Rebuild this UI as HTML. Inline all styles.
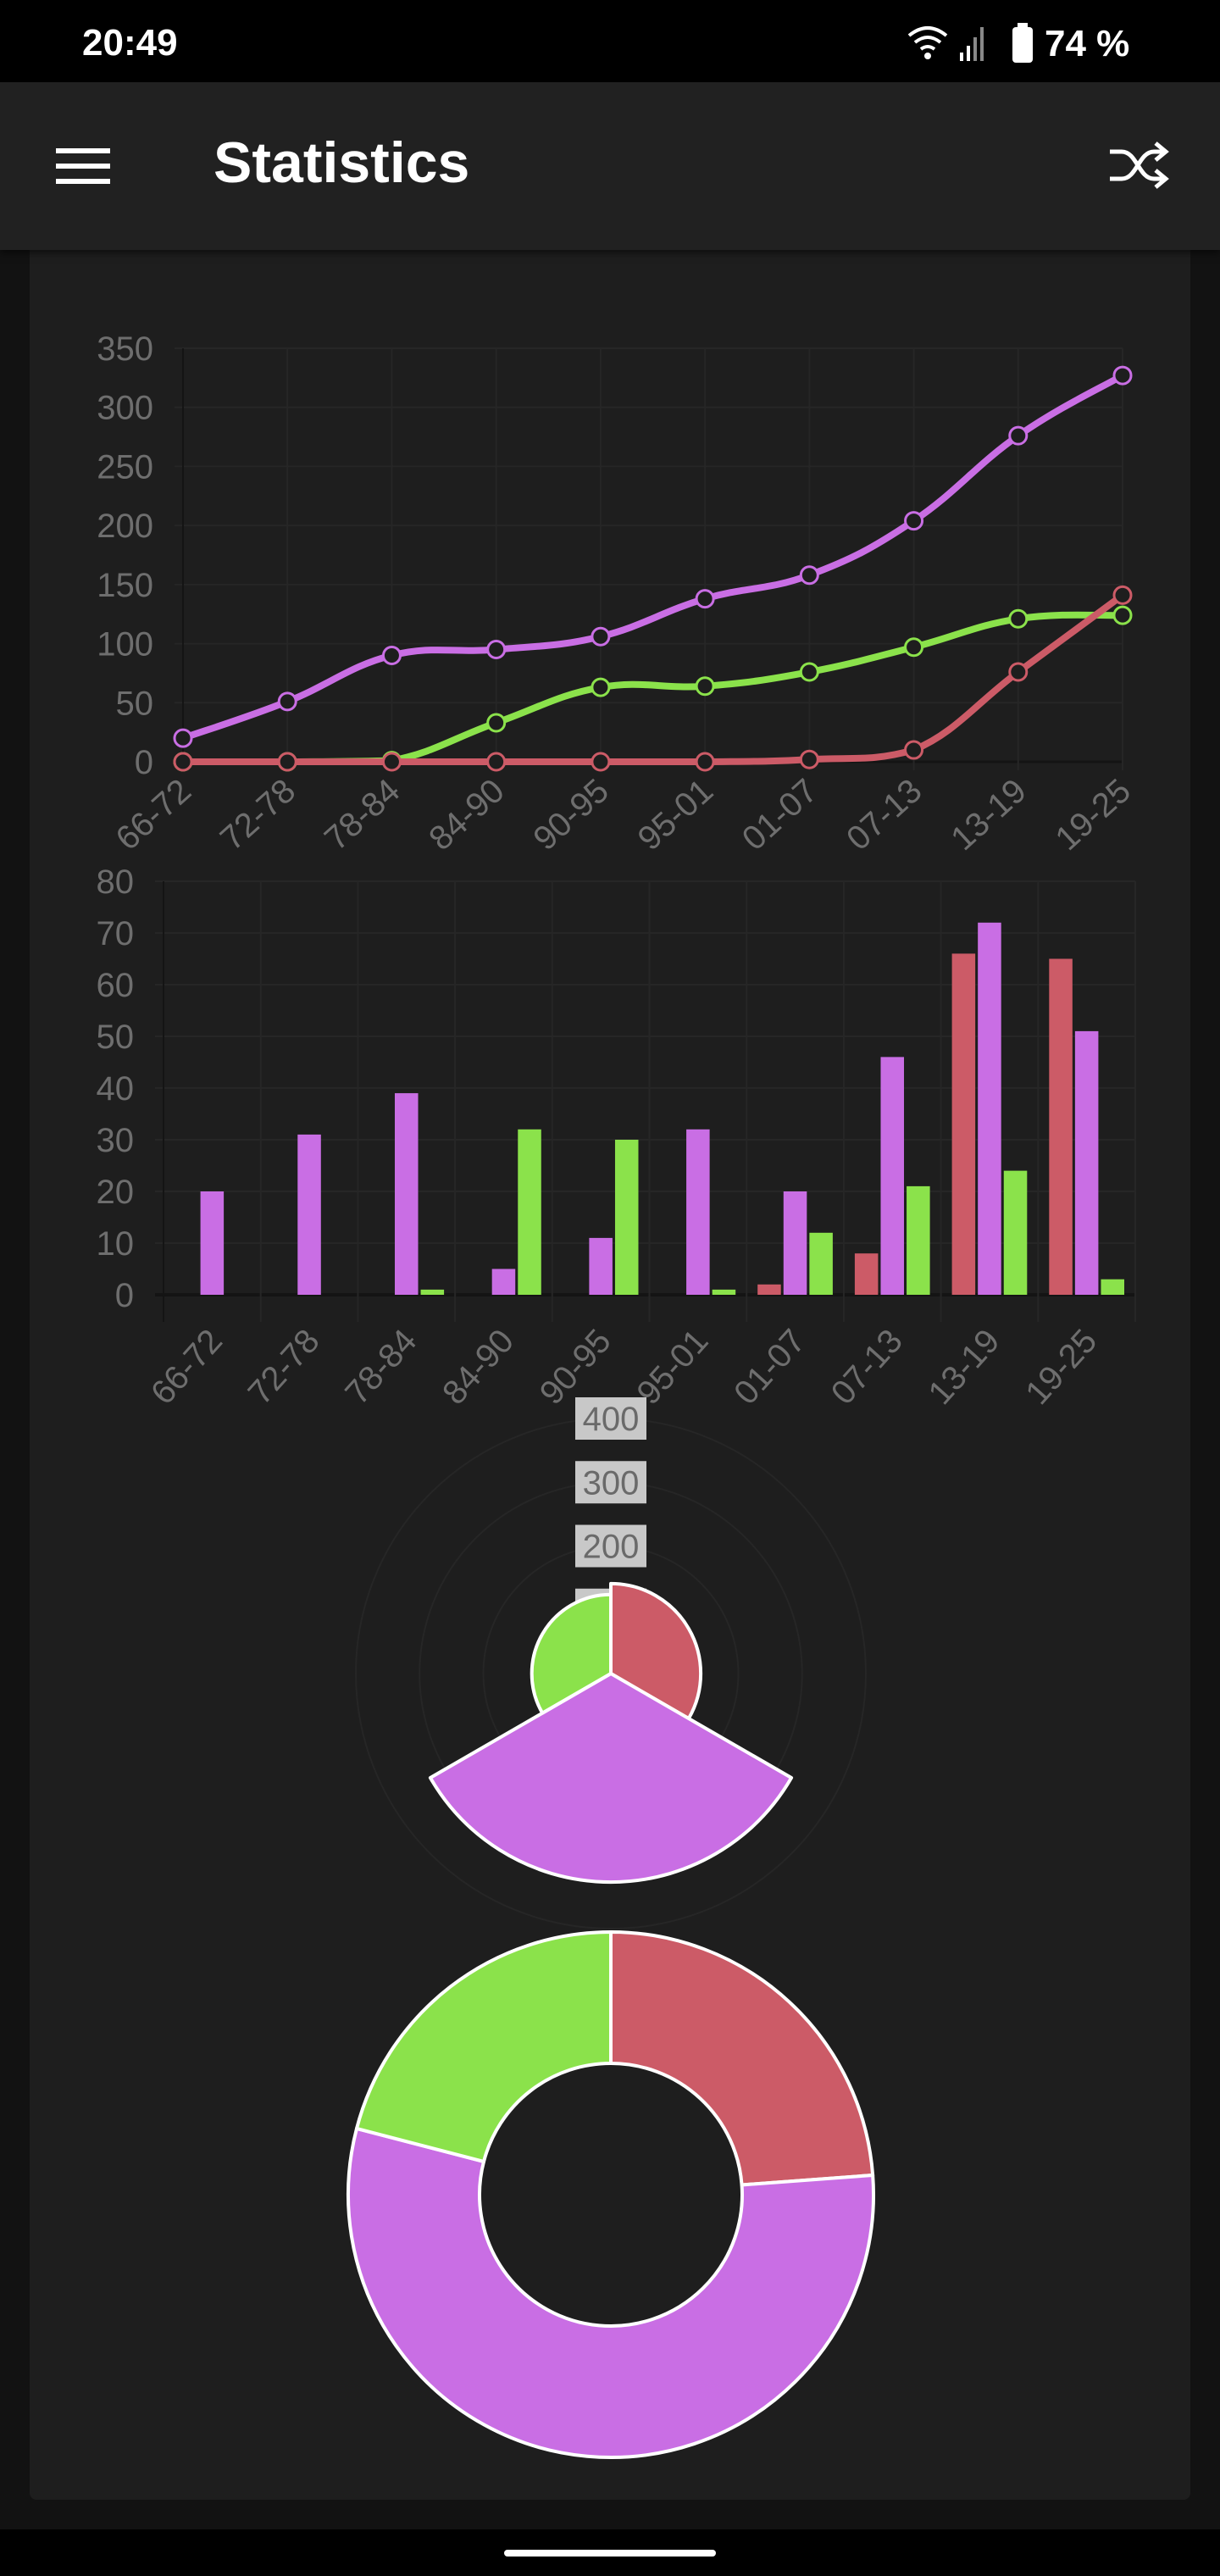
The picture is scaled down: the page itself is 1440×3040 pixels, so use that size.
<!DOCTYPE html>
<html><head><meta charset="utf-8">
<style>
html,body{margin:0;padding:0;background:#121212;}
body{width:1440px;height:3040px;overflow:hidden;position:relative;font-family:"Liberation Sans",sans-serif;}
#status{position:absolute;left:0;top:0;width:1440px;height:97px;background:#000;color:#fff;}
#appbar{position:absolute;left:0;top:97px;width:1440px;height:198px;background:#212121;box-shadow:0 4px 8px rgba(0,0,0,.5);z-index:2;}
#card{position:absolute;left:35px;top:295px;width:1370px;height:2655px;background:#1e1e1e;border-radius:0 0 8px 8px;}
#navbar{position:absolute;left:0;top:2985px;width:1440px;height:55px;background:#000;}
svg text{font-family:"Liberation Sans",sans-serif;}
</style></head>
<body>
<div id="status">
  <span style="position:absolute;left:97px;top:26px;font-size:44px;font-weight:bold;">20:49</span>
  <svg style="position:absolute;left:1065px;top:24px" width="290" height="52">
    <path d="M8 18 Q30 0 52 18 M15 26 Q30 14 45 26 M22 34 Q30 28 38 34" stroke="#fff" stroke-width="4" fill="none"/>
    <circle cx="30" cy="42" r="4" fill="#fff"/>
    <rect x="68" y="38" width="4" height="10" fill="#fff"/><rect x="76" y="30" width="4" height="18" fill="#fff"/><rect x="84" y="20" width="4" height="28" fill="#888"/><rect x="92" y="8" width="4" height="40" fill="#888"/>
    <rect x="130" y="8" width="24" height="42" rx="4" fill="#fff"/><rect x="136" y="3" width="12" height="6" fill="#fff"/>
    <text x="168" y="42" fill="#fff" font-size="44" font-weight="bold">74 %</text>
  </svg>
</div>
<div id="appbar">
  <svg style="position:absolute;left:66px;top:76px" width="64" height="46">
    <rect x="0" y="2" width="64" height="6" fill="#fff"/><rect x="0" y="20" width="64" height="6" fill="#fff"/><rect x="0" y="38" width="64" height="6" fill="#fff"/>
  </svg>
  <span style="position:absolute;left:252px;top:56px;font-size:68px;font-weight:bold;color:#fff;">Statistics</span>
  <svg style="position:absolute;left:1308px;top:70px" width="72" height="56">
    <path d="M2 12 H16 C34 12 36 44 54 44 H66 M2 44 H16 C34 44 36 12 54 12 H66 M56 2 L68 12 L56 22 M56 34 L68 44 L56 54" stroke="#fff" stroke-width="5" fill="none"/>
  </svg>
</div>
<div id="card"></div>
<div id="navbar">
  <div style="position:absolute;left:595px;top:24px;width:250px;height:8px;border-radius:4px;background:#fff;"></div>
</div>

<svg id="charts" width="1440" height="3040" style="position:absolute;left:0;top:0;z-index:1">
  <g id="lineChart"></g>
  <g id="barChart"></g>
  <g id="polarChart"></g>
  <g id="donutChart"></g>
</svg>

<script>
const categories = ["66-72","72-78","78-84","84-90","90-95","95-01","01-07","07-13","13-19","19-25"];
const cumPurple = [20,51,90,95,106,138,158,204,276,327];
const cumGreen  = [0,0,1,33,63,64,76,97,121,124];
const cumRed    = [0,0,0,0,0,0,2,10,76,141];
const lineTicks = [0,50,100,150,200,250,300,350];
const barPurple = [20,31,39,5,11,32,20,46,72,51];
const barGreen  = [0,0,1,32,30,1,12,21,24,3];
const barRed    = [0,0,0,0,0,0,2,8,66,65];
const barTicks  = [0,10,20,30,40,50,60,70,80];
const totals = [141,327,124];
const totalNames = ["red","purple","green"];
const polarTicks = [100,200,300,400];

const C_RED="#cc5b67", C_PUR="#c96ee4", C_GRN="#8be24b";
const NS="http://www.w3.org/2000/svg";
function mk(parent,tag,attrs,text){const e=document.createElementNS(NS,tag);for(const k in attrs)e.setAttribute(k,attrs[k]);if(text!==undefined)e.textContent=text;parent.appendChild(e);return e;}

/* ---------- line chart ---------- */
(function(){
  const g=document.getElementById('lineChart');
  const x0=216,x1=1325,yTop=411,yBot=899,max=350;
  const xs=i=>x0+i*(x1-x0)/(categories.length-1);
  const ys=v=>yBot-(v/max)*(yBot-yTop);
  lineTicks.forEach(t=>{
    const l=mk(g,'line',{x1:x0-10,x2:x1,y1:ys(t),y2:ys(t),stroke:t===0?'#141414':'#262626','stroke-width':t===0?3:2});
    
    const tx=mk(g,'text',{x:181,y:ys(t)+14,'text-anchor':'end','font-size':40,fill:'#6e6e6e'},t);
    
  });
  categories.forEach((c,i)=>{
    const l=mk(g,'line',{x1:xs(i),x2:xs(i),y1:yTop,y2:yBot+10,stroke:i===0?'#141414':'#262626','stroke-width':2});
    
    const tx=mk(g,'text',{x:0,y:0,'text-anchor':'end','font-size':40,fill:'#6e6e6e',transform:`translate(${xs(i)+12},${yBot+38}) rotate(-42)`},c);
    
  });
  const clampY=y=>Math.min(Math.max(y,yTop),yBot);
  function path(vals){
    const p=vals.map((v,i)=>[xs(i),ys(v)]);const t=0.4;let d=`M${p[0][0]},${p[0][1]}`;
    for(let i=0;i<p.length-1;i++){
      const a=p[Math.max(i-1,0)],b=p[i],c=p[i+1],e=p[Math.min(i+2,p.length-1)];
      const c1=[b[0]+(c[0]-a[0])*t/2,clampY(b[1]+(c[1]-a[1])*t/2)];
      const c2=[c[0]-(e[0]-b[0])*t/2,clampY(c[1]-(e[1]-b[1])*t/2)];
      d+=` C${c1[0]},${c1[1]} ${c2[0]},${c2[1]} ${c[0]},${c[1]}`;
    }return d;}
  [[cumPurple,C_PUR,'purple'],[cumGreen,C_GRN,'green'],[cumRed,C_RED,'red']].forEach(([vals,col,n])=>{
    const pth=mk(g,'path',{d:path(vals),stroke:col,'stroke-width':8,fill:'none'});
    
    vals.forEach((v,i)=>{
      const c=mk(g,'circle',{cx:xs(i),cy:ys(v),r:10,fill:'#1e1e1e',stroke:col,'stroke-width':3});
      
    });
  });
})();

/* ---------- bar chart ---------- */
(function(){
  const g=document.getElementById('barChart');
  const x0=193,x1=1340,yTop=1040,yBot=1528,max=80;
  const bw=(x1-x0)/categories.length;
  const ys=v=>yBot-(v/max)*(yBot-yTop);
  barTicks.forEach(t=>{
    const l=mk(g,'line',{x1:x0-10,x2:x1,y1:ys(t),y2:ys(t),stroke:t===0?'#141414':'#262626','stroke-width':t===0?4:2});
    
    const tx=mk(g,'text',{x:158,y:ys(t)+14,'text-anchor':'end','font-size':40,fill:'#6e6e6e'},t);
    
  });
  for(let i=0;i<=categories.length;i++){
    const l=mk(g,'line',{x1:x0+i*bw,x2:x0+i*bw,y1:yTop,y2:yBot+32,stroke:i===0?'#141414':'#262626','stroke-width':2});
    
  }
  const slot=bw*0.8/3, w=slot*0.9;
  categories.forEach((c,i)=>{
    const cx=x0+(i+0.5)*bw;
    [[barRed,C_RED,-1,'red'],[barPurple,C_PUR,0,'purple'],[barGreen,C_GRN,1,'green']].forEach(([vals,col,k,n])=>{
      const v=vals[i]; if(!v) return;
      const r=mk(g,'rect',{x:cx+k*slot-w/2,y:ys(v),width:w,height:yBot-ys(v),fill:col});
      
    });
    const tx=mk(g,'text',{x:0,y:0,'text-anchor':'end','font-size':40,fill:'#6e6e6e',transform:`translate(${cx+14},${yBot+56}) rotate(-48)`},c);
    
  });
})();

function arcPath(cx,cy,r0,r1,a0,a1){
  const p=(r,a)=>[cx+r*Math.cos(a),cy+r*Math.sin(a)];
  const large=(a1-a0)>Math.PI?1:0;
  const [ax,ay]=p(r1,a0),[bx,by]=p(r1,a1);
  if(r0<=0) return `M${cx},${cy} L${ax},${ay} A${r1},${r1} 0 ${large} 1 ${bx},${by} Z`;
  const [cx2,cy2]=p(r0,a1),[dx,dy]=p(r0,a0);
  return `M${ax},${ay} A${r1},${r1} 0 ${large} 1 ${bx},${by} L${cx2},${cy2} A${r0},${r0} 0 ${large} 0 ${dx},${dy} Z`;
}
const sliceCols=[C_RED,C_PUR,C_GRN];

/* ---------- polar area ---------- */
(function(){
  const g=document.getElementById('polarChart');
  const cx=721,cy=1975,rMax=301,max=400;
  const rs=v=>v/max*rMax;
  polarTicks.forEach(t=>{
    const c=mk(g,'circle',{cx,cy,r:rs(t),fill:'none',stroke:'#262626','stroke-width':2});
    
  });
  polarTicks.forEach(t=>{
    const r=mk(g,'rect',{x:cx-42,y:cy-rs(t)-25,width:84,height:50,fill:'#c8c8c8'});
    
    const tx=mk(g,'text',{x:cx,y:cy-rs(t)+14,'text-anchor':'middle','font-size':40,fill:'#6a6a6a'},t);
    
  });
  const step=2*Math.PI/totals.length;
  totals.forEach((v,i)=>{
    const a0=-Math.PI/2+i*step,a1=a0+step;
    const p=mk(g,'path',{d:arcPath(cx,cy,0,rs(v),a0,a1),fill:sliceCols[i],stroke:'#fff','stroke-width':4,'stroke-linejoin':'round'});
    
  });
})();

/* ---------- doughnut ---------- */
(function(){
  const g=document.getElementById('donutChart');
  const cx=721,cy=2590,r1=310,r0=155;
  const sum=totals.reduce((a,b)=>a+b,0);
  let a=-Math.PI/2;
  totals.forEach((v,i)=>{
    const a1=a+v/sum*2*Math.PI;
    const p=mk(g,'path',{d:arcPath(cx,cy,r0,r1,a,a1),fill:sliceCols[i],stroke:'#fff','stroke-width':4,'stroke-linejoin':'round'});
    
    a=a1;
  });
})();
</script>
</body></html>
